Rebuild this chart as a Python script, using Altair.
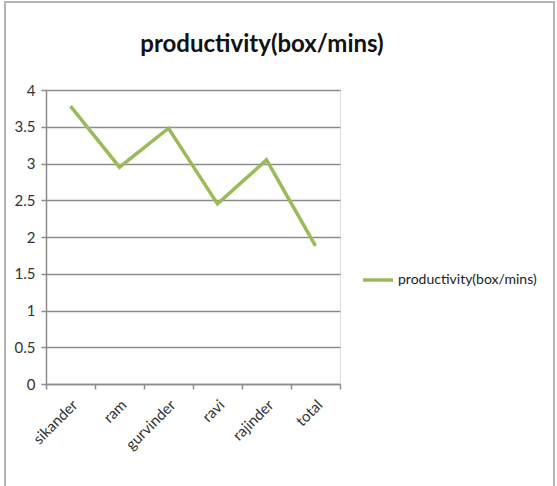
import altair as alt
import pandas as pd

names = ["sikander", "ram", "gurvinder", "ravi", "rajinder", "total"]
productivity = [3.78, 2.95, 3.48, 2.45, 3.05, 1.88]
series_name = "productivity(box/mins)"
y_ticks = [0, 0.5, 1, 1.5, 2, 2.5, 3, 3.5, 4]

FONT = "Lato"

df = pd.DataFrame({"name": names, "value": productivity, "series": series_name})

base = alt.Chart(df)

# thin outline around the whole chart
frame = base.mark_rect(fill="transparent", stroke="#b4b4b4", strokeWidth=1.5).encode(
    x=alt.value(-41), x2=alt.value(508), y=alt.value(-88), y2=alt.value(430)
)

line = base.mark_line(strokeWidth=3.5, strokeCap="butt", strokeJoin="miter").encode(
    x=alt.X(
        "name:N",
        sort=names,
        scale=alt.Scale(type="band", paddingInner=0, paddingOuter=0),
        axis=alt.Axis(
            title=None,
            labelAngle=-45,
            labelAlign="right",
            labelBaseline="middle",
            labelFont=FONT,
            labelFontSize=15,
            labelColor="#333333",
            labelPadding=13,
            labelOffset=4,
            tickBand="extent",
            tickSize=5,
            tickColor="#8c8c8c",
            domainColor="#8c8c8c",
            domainWidth=1.5,
            tickWidth=1.5,
            grid=False,
        ),
    ),
    y=alt.Y(
        "value:Q",
        scale=alt.Scale(domain=[0, 4], nice=False),
        axis=alt.Axis(
            title=None,
            values=y_ticks,
            format="~g",
            labelFont=FONT,
            labelFontSize=15,
            labelColor="#333333",
            labelPadding=6,
            tickSize=5,
            tickColor="#8c8c8c",
            tickWidth=1.5,
            domainColor="#8c8c8c",
            domainWidth=1.5,
            grid=True,
            gridColor="#8c8c8c",
            gridWidth=1.5,
        ),
    ),
    color=alt.Color(
        "series:N",
        scale=alt.Scale(range=["#9bbb59"]),
        legend=alt.Legend(
            title=None,
            orient="none",
            legendX=315,
            legendY=173,
            symbolType="stroke",
            symbolSize=900,
            symbolStrokeWidth=3.5,
            labelFont=FONT,
            labelFontSize=14,
            labelColor="#222222",
            labelOffset=3,
        ),
    ),
)

chart = (
    alt.layer(frame, line)
    .properties(
        width=294,
        height=294,
        padding={"left": 46, "top": 90, "right": 217, "bottom": 102},
        autosize=alt.AutoSizeParams(type="none"),
        title=alt.TitleParams(
            series_name,
            font=FONT,
            fontSize=24,
            fontWeight="bold",
            color="#111111",
            anchor="middle",
            dx=69,
            offset=0,
            dy=56,
        ),
    )
    .configure_view(stroke=None)
    .configure(background="white")
)

chart.save("out.html", embed_options={"renderer": "svg", "actions": False})
